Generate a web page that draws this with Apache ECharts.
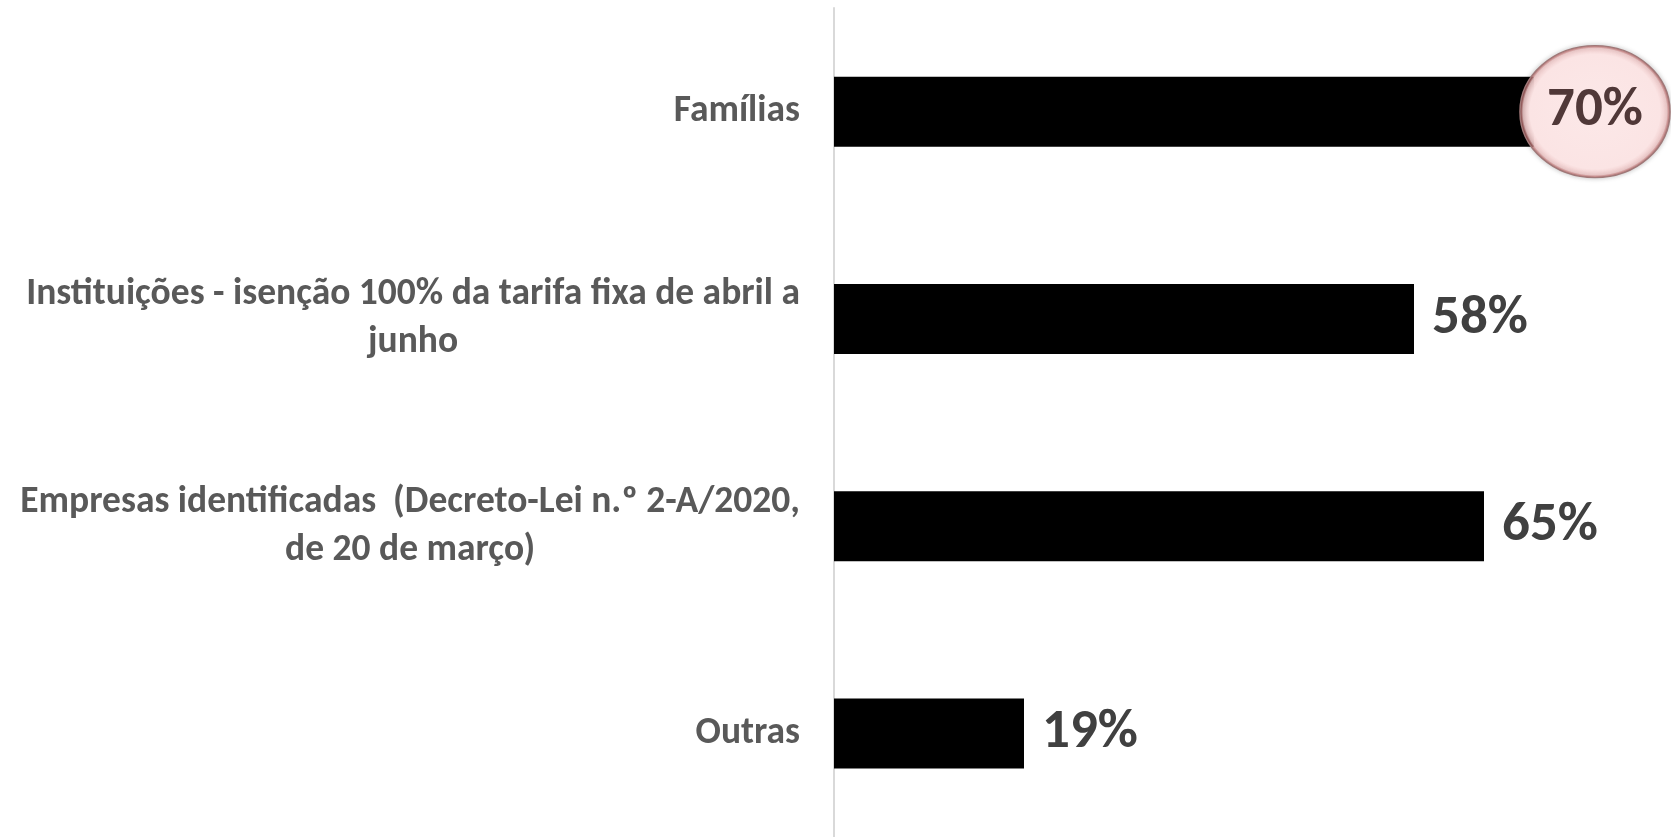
<!DOCTYPE html>
<html>
<head>
<meta charset="utf-8">
<script src="https://cdn.jsdelivr.net/npm/echarts@6/dist/echarts.min.js"></script>
<style>
  html, body { margin: 0; padding: 0; background: #fff; }
  #chart { width: 1671px; height: 837px; }
</style>
</head>
<body>
<div id="chart"></div>
<script>
// categories, top to bottom
const categories = [
  'Famílias',
  'Instituições - isenção 100% da tarifa fixa de abril a\njunho',
  'Empresas identificadas  (Decreto-Lei n.º 2-A/2020,\nde 20 de março)',
  'Outras'
];
const values = [70, 58, 65, 19];
// the category whose value is circled in the picture
const highlighted = 'Famílias';

const font = 'Carlito, "Open Sans", sans-serif';

let chart = echarts.init(document.getElementById('chart'));

chart.setOption({
  animation: false,
  grid: {
    left: 834,
    right: 0,
    top: 8,
    bottom: -6
  },
  xAxis: {
    type: 'value',
    min: 0,
    max: 83.7,
    show: false
  },
  yAxis: {
    type: 'category',
    data: categories,
    inverse: true,
    axisLine: {
      show: true,
      lineStyle: { color: '#d9d9d9', width: 2 }
    },
    axisTick: { show: false },
    axisLabel: {
      margin: 34,
      formatter: (v) => '{c|' + v + '}',
      rich: {
        c: {
          align: 'center',
          fontFamily: font,
          fontWeight: 'bold',
          fontSize: 37.5,
          lineHeight: 48,
          color: '#595959'
        }
      }
    }
  },
  series: [
    {
      type: 'bar',
      barWidth: 70,
      itemStyle: { color: '#000000' },
      data: values.map((v, i) => ({
        value: v,
        label: { show: categories[i] !== highlighted }
      })),
      label: {
        position: 'right',
        distance: 18,
        formatter: '{c}%',
        fontFamily: font,
        fontWeight: 'bold',
        fontSize: 55,
        color: '#404040'
      },
      markPoint: {
        symbol: 'circle',
        symbolSize: [150, 132],
        symbolOffset: [61, 0],
        z: 10,
        itemStyle: {
          color: {
            type: 'radial',
            x: 0.5,
            y: 0.5,
            r: 0.5,
            colorStops: [
              { offset: 0, color: 'rgba(252, 232, 232, 1)' },
              { offset: 0.86, color: 'rgba(251, 228, 228, 1)' },
              { offset: 0.95, color: 'rgba(244, 205, 205, 0.9)' },
              { offset: 1, color: 'rgba(170, 40, 40, 0.6)' }
            ]
          },
          borderColor: '#a07878',
          borderWidth: 1.5,
          shadowBlur: 5,
          shadowColor: 'rgba(0, 0, 0, 0.3)'
        },
        label: {
          show: true,
          position: 'inside',
          formatter: (p) => p.value + '%',
          fontFamily: font,
          fontWeight: 'bold',
          fontSize: 55,
          color: '#503838'
        },
        data: values
          .map((v, i) => ({ coord: [v, categories[i]], value: v }))
          .filter((d) => d.coord[1] === highlighted)
      }
    }
  ]
});
</script>
</body>
</html>
